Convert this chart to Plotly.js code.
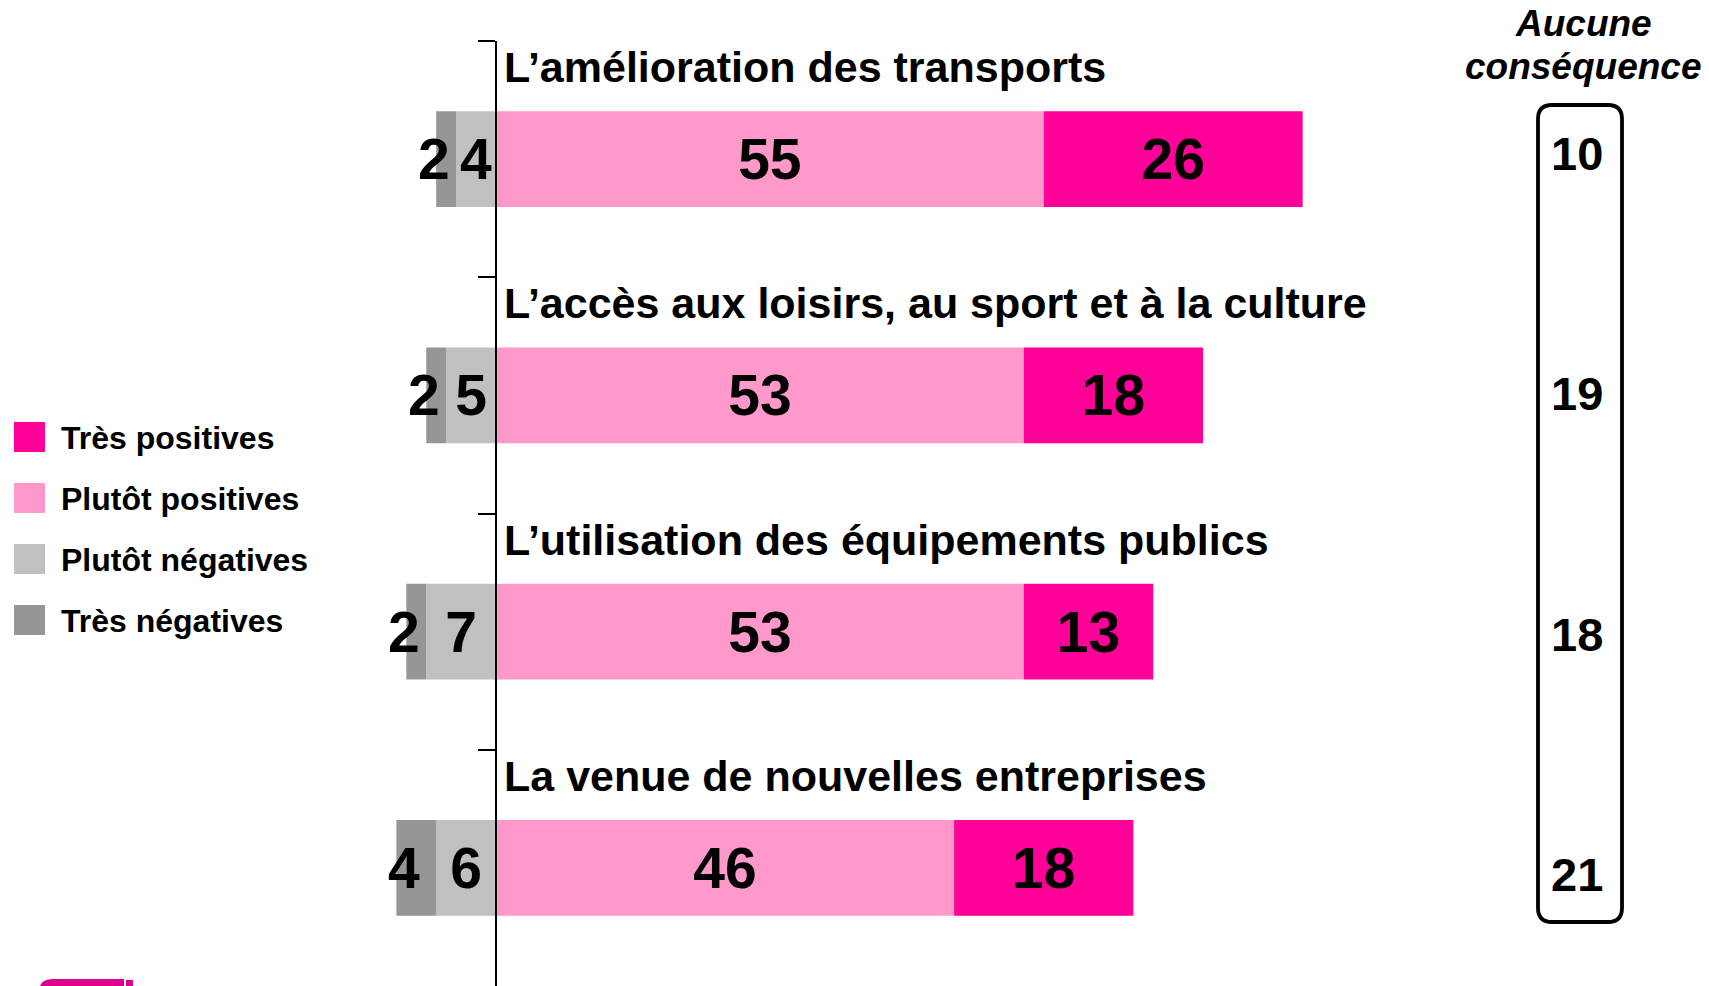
<!DOCTYPE html>
<html>
<head>
<meta charset="utf-8">
<script src="https://cdn.plot.ly/plotly-3.0.1.min.js"></script>
<style>html,body{margin:0;padding:0;background:#fff;overflow:hidden}#chart{width:1709px;height:986px}</style>
</head>
<body>
<div id="chart"></div>
<script>
const categories = [
  "L’amélioration des transports",
  "L’accès aux loisirs, au sport et à la culture",
  "L’utilisation des équipements publics",
  "La venue de nouvelles entreprises"
];
const tresNegatives   = [2, 2, 2, 4];
const plutotNegatives = [4, 5, 7, 6];
const plutotPositives = [55, 53, 53, 46];
const tresPositives   = [26, 18, 13, 18];
const aucuneConsequence = [10, 19, 18, 21];
const seriesNames  = ["Très positives", "Plutôt positives", "Plutôt négatives", "Très négatives"];
const seriesColors = ["#FF0099", "#FF99CC", "#C0C0C0", "#969696"];
const columnTitleLines = ["Aucune", "conséquence"];

const W = 1709, H = 986, TOP = 41;
const FONT = "Liberation Sans, Arial, sans-serif";
const idx = categories.map((_, i) => i);
const xRange = [-49.8, 121.8];
const zeroPos = (0 - xRange[0]) / (xRange[1] - xRange[0]);
const fx = px => px / W;
const fy = py => (H - py) / (H - TOP);

function barTrace(name, vals, color, sign, withText) {
  return {
    type: "bar", orientation: "h", name: name,
    y: idx, x: vals.map(v => sign * v),
    marker: {color: color, line: {width: 0}},
    text: withText ? vals.map(String) : undefined,
    textposition: withText ? "inside" : "none",
    insidetextanchor: "middle",
    constraintext: "none",
    textangle: 0,
    textfont: {family: FONT, size: 57, color: "#000", weight: "bold"},
    hoverinfo: "skip", showlegend: false
  };
}

const data = [
  barTrace(seriesNames[2], plutotNegatives, seriesColors[2], -1, true),
  barTrace(seriesNames[3], tresNegatives, seriesColors[3], -1, false),
  barTrace(seriesNames[1], plutotPositives, seriesColors[1], 1, true),
  barTrace(seriesNames[0], tresPositives, seriesColors[0], 1, true)
];

const annotations = [];
// category labels above bars
categories.forEach((c, i) => annotations.push({
  text: c, x: 0, xref: "x", y: i, yref: "y", xanchor: "left", yanchor: "middle",
  xshift: 6, yshift: 92, showarrow: false,
  font: {family: FONT, size: 43, color: "#000", weight: "bold"}
}));
// labels of the "très négatives" segments
tresNegatives.forEach((v, i) => annotations.push({
  text: String(v), x: -(plutotNegatives[i] + v / 2), xref: "x", y: i, yref: "y",
  xanchor: "center", yanchor: "middle", xshift: -12, showarrow: false,
  font: {family: FONT, size: 57, color: "#000", weight: "bold"}
}));
// Aucune conséquence column (rows spread slightly wider than the bars)
aucuneConsequence.forEach((v, i) => annotations.push({
  text: String(v), x: fx(1577), xref: "paper", y: i, yref: "y",
  xanchor: "center", yanchor: "middle", yshift: 6 - 4.2 * i, showarrow: false,
  font: {family: FONT, size: 47, color: "#000", weight: "bold"}
}));
columnTitleLines.forEach((t, k) => annotations.push({
  text: t, x: fx(1583), xref: "paper", y: fy(23 + 44 * k), yref: "paper",
  xanchor: "center", yanchor: "middle", showarrow: false, align: "center",
  font: {family: FONT, size: 37, color: "#000", weight: "bold", style: "italic"}
}));

const shapes = [];
// manual legend
seriesNames.forEach((n, k) => {
  const cy = 437 + k * 61;
  shapes.push({type: "rect", xref: "paper", yref: "paper",
    x0: fx(14), x1: fx(45), y0: fy(cy - 15), y1: fy(cy + 15),
    fillcolor: seriesColors[k], line: {width: 0}});
  annotations.push({text: n, x: fx(59), xref: "paper", y: fy(cy + 1), yref: "paper",
    xanchor: "left", yanchor: "middle", showarrow: false,
    font: {family: FONT, size: 32, color: "#000", weight: "bold"}});
});
// rounded box around the column
(function () {
  const L = 1538, R = 1622, T = 105, B = 922, r = 14;
  const p = (x, y) => fx(x) + "," + fy(y);
  const path = "M" + p(L + r, T) + " L" + p(R - r, T) + " Q" + p(R, T) + " " + p(R, T + r) +
    " L" + p(R, B - r) + " Q" + p(R, B) + " " + p(R - r, B) +
    " L" + p(L + r, B) + " Q" + p(L, B) + " " + p(L, B - r) +
    " L" + p(L, T + r) + " Q" + p(L, T) + " " + p(L + r, T) + " Z";
  shapes.push({type: "path", xref: "paper", yref: "paper", path: path,
    line: {color: "#000", width: 3.8}, fillcolor: "rgba(0,0,0,0)"});
  // partial logo at bottom-left
  const lp = "M" + p(40, 986) + " Q" + p(42, 979.5) + " " + p(52, 979) + " L" + p(124, 979) +
    " L" + p(124, 986) + " Z";
  shapes.push({type: "path", xref: "paper", yref: "paper", path: lp,
    line: {width: 0}, fillcolor: "#DC008B"});
  shapes.push({type: "rect", xref: "paper", yref: "paper", x0: fx(126), x1: fx(133),
    y0: fy(986), y1: fy(980), line: {width: 0}, fillcolor: "#DC008B"});
})();

const layout = {
  width: W, height: H,
  margin: {l: 0, r: 0, t: TOP, b: 0, pad: 0},
  paper_bgcolor: "#fff", plot_bgcolor: "rgba(0,0,0,0)",
  barmode: "relative", bargap: 0.594,
  showlegend: false,
  xaxis: {range: xRange, visible: false, fixedrange: true},
  yaxis: {
    range: [3.5, -0.5], anchor: "free", position: zeroPos,
    showline: true, linecolor: "#000", linewidth: 2,
    ticks: "outside", ticklen: 17, tickwidth: 2, tickcolor: "#000",
    tickvals: [-0.5, 0.5, 1.5, 2.5], showticklabels: false,
    showgrid: false, zeroline: false, fixedrange: true
  },
  annotations: annotations,
  shapes: shapes,
  font: {family: FONT}
};

Plotly.newPlot("chart", data, layout, {displayModeBar: false, staticPlot: true});
</script>
</body>
</html>
